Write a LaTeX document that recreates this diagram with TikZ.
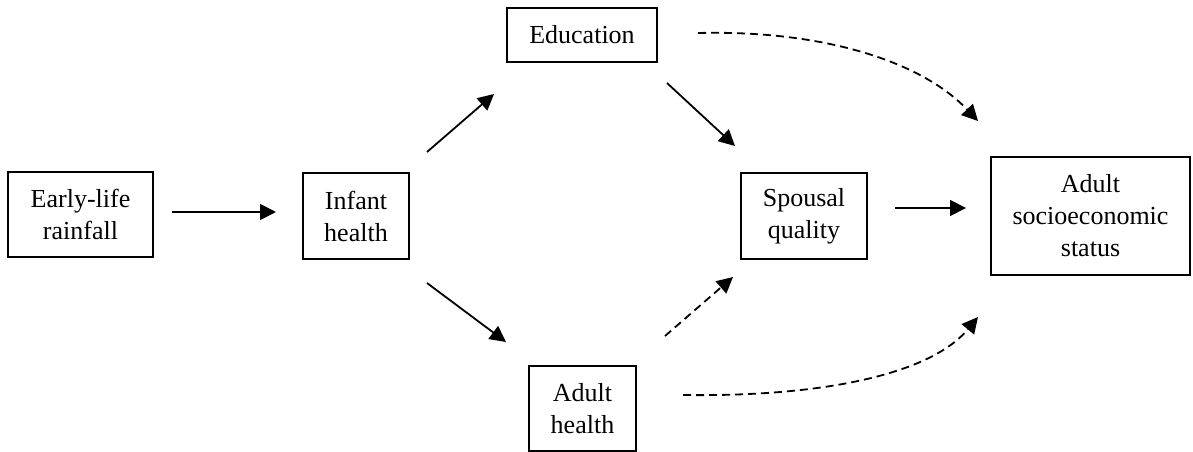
\documentclass[tikz,border=0pt]{standalone}
\usepackage{fontspec}
\setmainfont{Liberation Serif}
\usetikzlibrary{arrows.meta}
\begin{document}
\begin{tikzpicture}[x=1pt,y=-1pt,
  box/.style={draw,line width=1.8pt,align=center,inner sep=0pt,
    font=\fontsize{26}{32}\selectfont},
  arr/.style={line width=1.8pt,-{Triangle[length=16pt,width=16pt]}},
  darr/.style={arr,dash pattern=on 8pt off 5pt}]
\useasboundingbox (0,0) rectangle (1193,452);
\node[box,minimum width=145pt,minimum height=85pt] (rain) at (80.5,214.5) {Early-life\\rainfall};
\node[box,minimum width=106pt,minimum height=86pt] (infant) at (356,216) {Infant\\health};
\node[box,minimum width=150pt,minimum height=54pt] (edu) at (582,35) {Education};
\node[box,minimum width=126pt,minimum height=86pt] (spouse) at (804,216) {Spousal\\quality};
\node[box,minimum width=199pt,minimum height=118pt] (ses) at (1090.5,216) {Adult\\socioeconomic\\status};
\node[box,minimum width=107pt,minimum height=85pt] (ah) at (582.5,408.5) {Adult\\health};
% connector ends
\coordinate (a1s) at (172,212); \coordinate (a1e) at (276,212);
\coordinate (a2s) at (427,152); \coordinate (a2e) at (494,94);
\coordinate (a3s) at (667,83);  \coordinate (a3e) at (735,146);
\coordinate (a4s) at (427,283); \coordinate (a4e) at (506,342);
\coordinate (a5s) at (665,336); \coordinate (a5e) at (733,277);
\coordinate (a6s) at (895,208); \coordinate (a6e) at (966,208);
\coordinate (a7s) at (698,33);  \coordinate (a7e) at (978,121);
\coordinate (a8s) at (683,395); \coordinate (a8e) at (978,317);
\draw[arr] (a1s) -- (a1e);
\draw[arr] (a2s) -- (a2e);
\draw[arr] (a3s) -- (a3e);
\draw[arr] (a4s) -- (a4e);
\draw[darr] (a5s) -- (a5e);
\draw[arr] (a6s) -- (a6e);
\draw[darr] (a7s) .. controls (820,30) and (920,60) .. (a7e);
\draw[darr] (a8s) .. controls (820,397) and (930,375) .. (a8e);
\end{tikzpicture}
\end{document}
